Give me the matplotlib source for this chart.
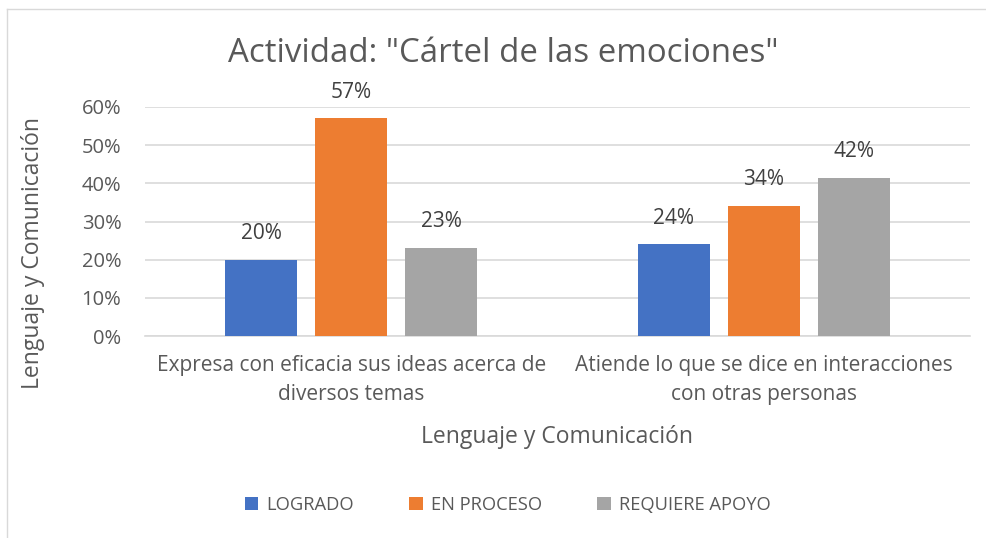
import matplotlib
matplotlib.use("Agg")
import matplotlib.pyplot as plt
import numpy as np
from matplotlib.lines import Line2D
from matplotlib.patches import Patch

categories = ["Expresa con eficacia sus ideas acerca de\ndiversos temas",
              "Atiende lo que se dice en interacciones\ncon otras personas"]
series_names = ["LOGRADO", "EN PROCESO", "REQUIERE APOYO"]
logrado = [0.20, 0.24]
en_proceso = [0.57, 0.34]
requiere_apoyo = [0.23, 0.415]
labels_logrado = ["20%", "24%"]
labels_proceso = ["57%", "34%"]
labels_apoyo = ["23%", "42%"]
yticks = [0, 0.1, 0.2, 0.3, 0.4, 0.5, 0.6]
ytick_labels = ["0%", "10%", "20%", "30%", "40%", "50%", "60%"]

colors = ["#4472C4", "#ED7D31", "#A5A5A5"]
txt = "#595959"
plt.rcParams['font.family'] = ['Open Sans', 'DejaVu Sans']

fig = plt.figure(figsize=(9.87, 5.38), dpi=100)
ax = fig.add_axes([145/987, 1-336/538, (970-145)/987, (336-107)/538])

x = np.arange(len(categories))
w = 0.175
step = 0.218
series = [logrado, en_proceso, requiere_apoyo]
lbls = [labels_logrado, labels_proceso, labels_apoyo]
for i, (vals, lab) in enumerate(zip(series, lbls)):
    pos = x + (i - 1) * step
    ax.bar(pos, vals, width=w, color=colors[i], zorder=3)
    for p, v, l in zip(pos, vals, lab):
        ax.annotate(l, (p, v), xytext=(0, 19), textcoords="offset points",
                    ha="center", va="center", fontsize=15, color="#404040")

ax.set_xlim(-0.5, 1.5)
ax.set_ylim(0, 0.6)
ax.set_yticks(yticks)
ax.set_yticklabels(ytick_labels, fontsize=14.5, color=txt)
ax.set_xticks(x)
ax.set_xticklabels(categories, fontsize=15, color=txt, linespacing=1.45)
ax.tick_params(axis='both', length=0)
ax.tick_params(axis='x', pad=14)
ax.tick_params(axis='y', pad=17)
ax.grid(axis='y', color="#D9D9D9", linewidth=1.2, zorder=0)
for s in ["top", "right", "left"]:
    ax.spines[s].set_visible(False)
ax.spines["bottom"].set_color("#D9D9D9")
ax.spines["bottom"].set_linewidth(1.2)

fig.text(503/987, 1-53/538, 'Actividad: "Cártel de las emociones"', ha="center", va="center",
         fontsize=23.8, color=txt)
fig.text(557/987, 1-437/538, "Lenguaje y Comunicación", ha="center", va="center",
         fontsize=16.5, color=txt)
fig.text(33/987, 1-253/538, "Lenguaje y Comunicación", ha="center", va="center",
         fontsize=16.5, color=txt, rotation=90)

handles = [Patch(facecolor=c, edgecolor='none') for c in colors]
fig.legend(handles, series_names, loc="center", bbox_to_anchor=(508/987, 1-505/538),
           ncol=3, frameon=False, fontsize=13.2, labelcolor=txt, handlelength=0.75,
           handleheight=0.75, handletextpad=0.45, columnspacing=3.0)

fig.add_artist(Line2D([7/987, 7/987], [0, 1-9/538], color="#D9D9D9", linewidth=1))
fig.add_artist(Line2D([7/987, 1], [1-9/538, 1-9/538], color="#D9D9D9", linewidth=1))

fig.savefig("out.png", dpi=100)
